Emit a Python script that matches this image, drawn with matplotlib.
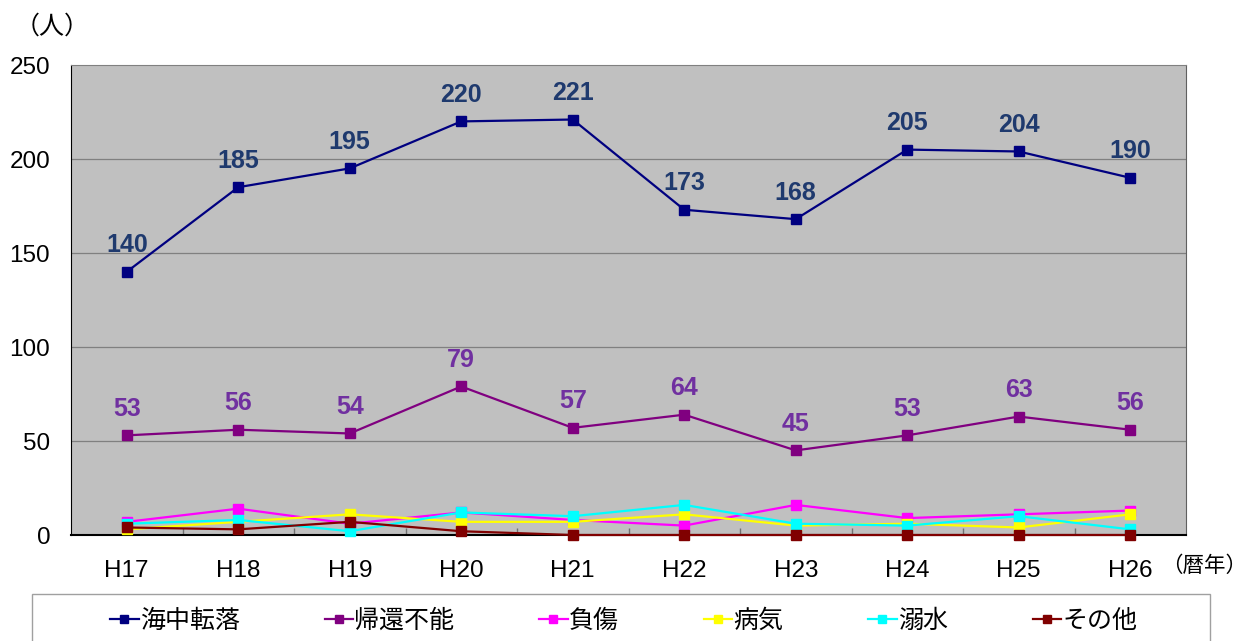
import matplotlib
matplotlib.use("Agg")
import matplotlib.pyplot as plt
from matplotlib.ticker import FixedLocator
from matplotlib.patches import Rectangle
import numpy as np

plt.rcParams['font.family'] = ['Liberation Sans', 'Noto Sans CJK JP', 'DejaVu Sans']

categories = ["H17", "H18", "H19", "H20", "H21", "H22", "H23", "H24", "H25", "H26"]
kaichu_tenraku = [140, 185, 195, 220, 221, 173, 168, 205, 204, 190]
kikan_funou = [53, 56, 54, 79, 57, 64, 45, 53, 63, 56]
fusho = [7, 14, 6, 12, 8, 5, 16, 9, 11, 13]
byoki = [3, 7, 11, 7, 7, 11, 5, 6, 4, 11]
dekisui = [6, 8, 2, 12, 10, 16, 6, 5, 10, 3]
sonota = [4, 3, 7, 2, 0, 0, 0, 0, 0, 0]

series_names = ["海中転落", "帰還不能", "負傷", "病気", "溺水", "その他"]
series_values = [kaichu_tenraku, kikan_funou, fusho, byoki, dekisui, sonota]
series_colors = ["#000080", "#800080", "#FF00FF", "#FFFF00", "#00FFFF", "#800000"]
yticks = [0, 50, 100, 150, 200, 250]

fig = plt.figure(figsize=(12.49, 6.41), dpi=100)
ax = fig.add_axes([71/1249, 1-535/641, (1186-71)/1249, (535-65)/641])
ax.set_facecolor("#C0C0C0")

x = np.arange(len(categories)) + 0.5
handles = []
for name, vals, col in zip(series_names, series_values, series_colors):
    h, = ax.plot(x, vals, color=col, lw=1.6, marker='s', markersize=6.5,
                 clip_on=False, zorder=3, label=name)
    handles.append(h)

for xi, v in zip(x, kaichu_tenraku):
    ax.annotate(str(v), (xi, v), xytext=(0, 19), textcoords='offset points',
                ha='center', va='center', fontsize=18, fontweight='bold',
                color='#1F3A6E')
for xi, v in zip(x, kikan_funou):
    ax.annotate(str(v), (xi, v), xytext=(0, 19), textcoords='offset points',
                ha='center', va='center', fontsize=18, fontweight='bold',
                color='#7030A0')

ax.set_xlim(0, len(categories))
ax.set_ylim(0, 250)
ax.set_yticks(yticks)
ax.set_yticklabels([str(t) for t in yticks], fontsize=17.5)
ax.tick_params(axis='y', length=0, pad=15)
ax.set_xticks(x)
ax.set_xticklabels(categories, fontsize=17.5)
ax.tick_params(axis='x', which='major', length=0, pad=18)
ax.xaxis.set_minor_locator(FixedLocator(np.arange(1, len(categories))))
ax.tick_params(axis='x', which='minor', direction='in', length=5, color='#707070', width=1)

for yv in yticks[1:-1]:
    ax.axhline(yv, color='#808080', lw=0.9, zorder=1)

ax.spines['left'].set_color('black')
ax.spines['bottom'].set_color('black')
ax.spines['bottom'].set_linewidth(1.5)
ax.spines['top'].set_color('#808080')
ax.spines['right'].set_color('#606060')

fig.text(15/1249, 1-27/641, "（人）", fontsize=18, va='center', ha='left',
         family=['Noto Sans CJK JP'])
fig.text(1161/1249, 1-566/641, "（暦年）", fontsize=15.5, va='center', ha='left',
         family=['Noto Sans CJK JP'])

# legend frame (extends past the bottom edge as in the reference)
fig.patches.append(Rectangle((32/1249, -0.05), (1210-32)/1249, 0.05 + (641-594)/641,
                             transform=fig.transFigure, fill=False,
                             edgecolor='#A0A0A0', lw=1.0))
leg = fig.legend(handles=handles, loc='center left', ncol=6,
                 bbox_to_anchor=(110/1249, 1-621/641),
                 prop={'family': ['Noto Sans CJK JP'], 'size': 18},
                 frameon=False, handlelength=1.15, handletextpad=0.05,
                 columnspacing=3.38, borderaxespad=0, borderpad=0)
for lh in leg.legend_handles:
    lh.set_markersize(6)

fig.savefig("out.png", dpi=100)
